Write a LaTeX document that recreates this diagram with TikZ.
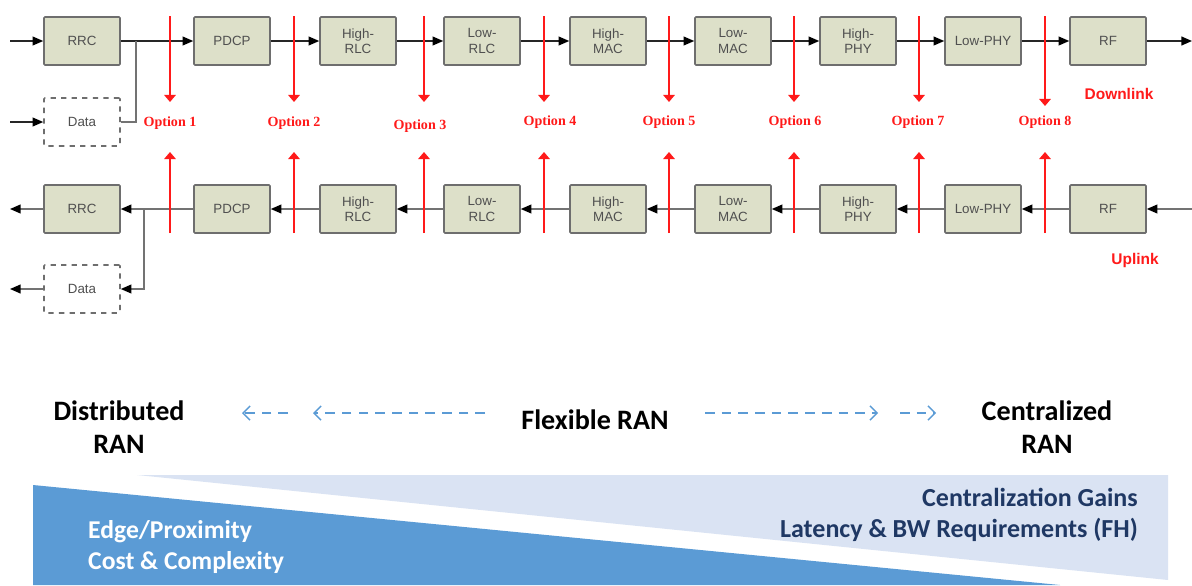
\documentclass[tikz,border=0pt]{standalone}
\usepackage{fontspec}
\usepackage{tikz}
\usetikzlibrary{arrows.meta}
\setmainfont{Liberation Serif}
\newfontfamily\arialf{Liberation Sans}
\newfontfamily\calibf{Carlito}
\definecolor{boxfill}{HTML}{DDE0C9}
\definecolor{boxline}{HTML}{6E6E6E}
\definecolor{boxtext}{HTML}{505050}
\definecolor{optred}{HTML}{FF1A1A}
\definecolor{paleblue}{HTML}{DAE3F3}
\definecolor{midblue}{HTML}{5B9BD5}
\definecolor{navy}{HTML}{1F3864}

\begin{document}
\begin{tikzpicture}[x=0.02cm, y=-0.02cm,
    blk/.style={draw=boxline, fill=boxfill, line width=0.9pt, rounded corners=0.5pt,
      minimum width=1.52cm, minimum height=0.96cm, inner sep=0pt, align=center,
      font=\arialf\fontsize{7.6}{8.6}\selectfont, text=boxtext},
    datablk/.style={blk, fill=white, dashed},
    flow/.style={line width=0.8pt, -{Triangle[width=5pt,length=6pt,color=black]}},
    cut/.style={optred, line width=1pt, -{Triangle[width=6.5pt,length=4pt]}},
    optlbl/.style={font=\bfseries\fontsize{8}{9}\selectfont, text=optred},
    linklbl/.style={font=\arialf\bfseries\fontsize{8.8}{10}\selectfont, text=optred},
    ranlbl/.style={font=\calibf\bfseries\fontsize{16}{19}\selectfont, align=center},
    trend/.style={midblue, line width=0.8pt, dash pattern=on 5.5pt off 4pt, -{Straight Barb[length=4pt,width=8pt]}}]
  \useasboundingbox (0,0) rectangle (1192,585);

  % Downlink chain
  \node[blk] (rrcd) at (82,41) {RRC};
  \node[blk] (pdcpd) at (232,41) {PDCP};
  \node[blk] (hrlcd) at (358,41) {High-\\RLC};
  \node[blk] (lrlcd) at (482,41) {Low-\\RLC};
  \node[blk] (hmacd) at (608,41) {High-\\MAC};
  \node[blk] (lmacd) at (733,41) {Low-\\MAC};
  \node[blk] (hphyd) at (858,41) {High-\\PHY};
  \node[blk] (lphyd) at (983,41) {Low-PHY};
  \node[blk] (rfd) at (1108,41) {RF};
  \node[datablk] (datad) at (82,122) {Data};

  \coordinate (ind) at (10,41);
  \coordinate (indata) at (10,122);
  \coordinate (outd) at (1192,41);
  \coordinate (joind) at (136,41);

  \draw[flow, black!85] (ind) -- (rrcd);
  \draw[flow, black!85] (indata) -- (datad);
  \draw[flow, black!85] (rrcd) -- (pdcpd);
  \draw[black!55, line width=0.8pt] (datad.east) -| (joind);
  \draw[flow, black!85] (pdcpd) -- (hrlcd);
  \draw[flow, black!85] (hrlcd) -- (lrlcd);
  \draw[flow, black!85] (lrlcd) -- (hmacd);
  \draw[flow, black!85] (hmacd) -- (lmacd);
  \draw[flow, black!85] (lmacd) -- (hphyd);
  \draw[flow, black!85] (hphyd) -- (lphyd);
  \draw[flow, black!85] (lphyd) -- (rfd);
  \draw[flow, black!85] (rfd) -- (outd);

  % Uplink chain
  \node[blk] (rrcu) at (82,209) {RRC};
  \node[blk] (pdcpu) at (232,209) {PDCP};
  \node[blk] (hrlcu) at (358,209) {High-\\RLC};
  \node[blk] (lrlcu) at (482,209) {Low-\\RLC};
  \node[blk] (hmacu) at (608,209) {High-\\MAC};
  \node[blk] (lmacu) at (733,209) {Low-\\MAC};
  \node[blk] (hphyu) at (858,209) {High-\\PHY};
  \node[blk] (lphyu) at (983,209) {Low-PHY};
  \node[blk] (rfu) at (1108,209) {RF};
  \node[datablk] (datau) at (82,289) {Data};

  \coordinate (outu) at (10,209);
  \coordinate (outdata) at (10,289);
  \coordinate (inu) at (1192,209);
  \coordinate (joinu) at (144,209);

  \draw[flow, black!55] (inu) -- (rfu);
  \draw[flow, black!55] (rfu) -- (lphyu);
  \draw[flow, black!55] (lphyu) -- (hphyu);
  \draw[flow, black!55] (hphyu) -- (lmacu);
  \draw[flow, black!55] (lmacu) -- (hmacu);
  \draw[flow, black!55] (hmacu) -- (lrlcu);
  \draw[flow, black!55] (lrlcu) -- (hrlcu);
  \draw[flow, black!55] (hrlcu) -- (pdcpu);
  \draw[flow, black!55] (pdcpu) -- (rrcu);
  \draw[flow, black!55] (rrcu) -- (outu);
  \draw[flow, black!55] (joinu) |- (datau);
  \draw[flow, black!55] (datau) -- (outdata);

  % Split options
  \coordinate (c1a) at (170,16);  \coordinate (c1b) at (170,102);
  \coordinate (c1c) at (170,233); \coordinate (c1d) at (170,152);
  \coordinate (c2a) at (294,16);  \coordinate (c2b) at (294,102);
  \coordinate (c2c) at (294,233); \coordinate (c2d) at (294,152);
  \coordinate (c3a) at (424,16);  \coordinate (c3b) at (424,102);
  \coordinate (c3c) at (424,233); \coordinate (c3d) at (424,152);
  \coordinate (c4a) at (544,16);  \coordinate (c4b) at (544,102);
  \coordinate (c4c) at (544,233); \coordinate (c4d) at (544,152);
  \coordinate (c5a) at (669,16);  \coordinate (c5b) at (669,102);
  \coordinate (c5c) at (669,233); \coordinate (c5d) at (669,152);
  \coordinate (c6a) at (794,16);  \coordinate (c6b) at (794,102);
  \coordinate (c6c) at (794,233); \coordinate (c6d) at (794,152);
  \coordinate (c7a) at (919,16);  \coordinate (c7b) at (919,102);
  \coordinate (c7c) at (919,233); \coordinate (c7d) at (919,152);
  \coordinate (c8a) at (1045,16); \coordinate (c8b) at (1045,106);
  \coordinate (c8c) at (1045,233); \coordinate (c8d) at (1045,152);

  \draw[cut] (c1a) -- (c1b);  \draw[cut] (c1c) -- (c1d);
  \draw[cut] (c2a) -- (c2b);  \draw[cut] (c2c) -- (c2d);
  \draw[cut] (c3a) -- (c3b);  \draw[cut] (c3c) -- (c3d);
  \draw[cut] (c4a) -- (c4b);  \draw[cut] (c4c) -- (c4d);
  \draw[cut] (c5a) -- (c5b);  \draw[cut] (c5c) -- (c5d);
  \draw[cut] (c6a) -- (c6b);  \draw[cut] (c6c) -- (c6d);
  \draw[cut] (c7a) -- (c7b);  \draw[cut] (c7c) -- (c7d);
  \draw[cut] (c8a) -- (c8b);  \draw[cut] (c8c) -- (c8d);

  \node[optlbl] (opt1) at (170,123) {Option 1};
  \node[optlbl] (opt2) at (294,123) {Option 2};
  \node[optlbl] (opt3) at (420,126) {Option 3};
  \node[optlbl] (opt4) at (550,122) {Option 4};
  \node[optlbl] (opt5) at (669,122) {Option 5};
  \node[optlbl] (opt6) at (795,122) {Option 6};
  \node[optlbl] (opt7) at (918,122) {Option 7};
  \node[optlbl] (opt8) at (1045,122) {Option 8};

  \node[linklbl] (dl) at (1119,94) {Downlink};
  \node[linklbl] (ul) at (1135,260) {Uplink};

  % Centralisation trade-off
  \fill[paleblue] (137,475) -- (1168,475) -- (1168,580) -- cycle;
  \fill[midblue] (33,485) -- (1060,585) -- (33,585) -- cycle;

  \node[ranlbl] (dran) at (119,427) {Distributed\\RAN};
  \node[ranlbl] (fran) at (595,420) {Flexible RAN};
  \node[ranlbl] (cran) at (1047,427) {Centralized\\RAN};

  \coordinate (t1a) at (288,413); \coordinate (t1b) at (242,413);
  \coordinate (t2a) at (485,413); \coordinate (t2b) at (313,413);
  \coordinate (t3a) at (705,413); \coordinate (t3b) at (878,413);
  \coordinate (t4a) at (900,413); \coordinate (t4b) at (936,413);
  \draw[trend] (t1a) -- (t1b);
  \draw[trend] (t2a) -- (t2b);
  \draw[trend] (t3a) -- (t3b);
  \draw[trend] (t4a) -- (t4b);

  \node[font=\calibf\bfseries\fontsize{14.8}{17.8}\selectfont, text=navy, align=right, anchor=east] (gains) at (1144,515) {Centralization Gains\\Latency \& BW Requirements (FH)};
  \node[font=\calibf\bfseries\fontsize{14.6}{17.6}\selectfont, text=white, align=left, anchor=west] (edge) at (82,547) {Edge/Proximity\\Cost \& Complexity};
\end{tikzpicture}
\end{document}
